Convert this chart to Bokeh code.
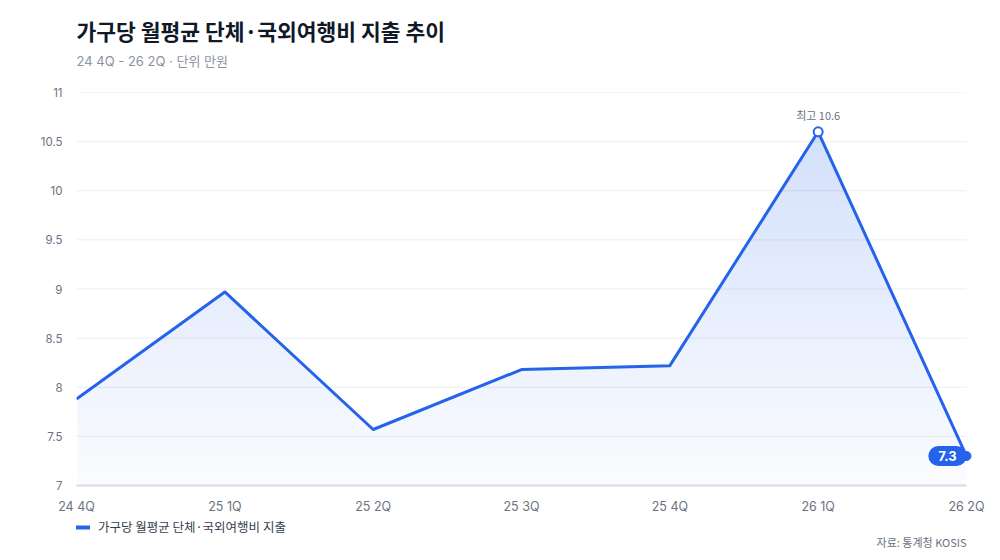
import numpy as np
from bokeh.plotting import figure
from bokeh.layouts import column
from bokeh.models import Range1d, FixedTicker, Label, Legend, LegendItem
from bokeh.embed import file_html
from bokeh.resources import INLINE

# ---- data ----
quarters = ["24 4Q", "25 1Q", "25 2Q", "25 3Q", "25 4Q", "26 1Q", "26 2Q"]
spend = [7.88, 8.97, 7.57, 8.18, 8.22, 10.6, 7.3]
y_ticks = [7, 7.5, 8, 8.5, 9, 9.5, 10, 10.5, 11]
y_tick_labels = ["7", "7.5", "8", "8.5", "9", "9.5", "10", "10.5", "11"]
title_text = "가구당 월평균 단체·국외여행비 지출 추이"
subtitle_text = "24 4Q - 26 2Q · 단위 만원"
series_name = "가구당 월평균 단체·국외여행비 지출"
source_text = "자료: 통계청 KOSIS"
max_prefix = "최고"

BLUE = "#2563eb"
BLUE_RGB = (37, 99, 235)
KR = "Noto Sans CJK KR"
NUM = "Inter, Noto Sans CJK KR"

# ---- layout constants (pixels) ----
W = 1000
LEFT, RIGHT = 76, 28
HEAD_H, MAIN_H, FOOT_H = 70, 446, 44
MAIN_TOP, MAIN_BOTTOM = 22, 30
X_LO, X_HI = LEFT, W - RIGHT
head_y0 = 0
foot_y0 = HEAD_H + MAIN_H


def bare(fig):
    fig.outline_line_color = None
    fig.background_fill_color = "white"
    fig.border_fill_color = "white"
    fig.xgrid.grid_line_color = None
    fig.ygrid.grid_line_color = None
    return fig


def strip(height, top):
    return bare(figure(width=W, height=height, output_backend="svg",
                       toolbar_location=None, x_range=Range1d(X_LO, X_HI),
                       y_range=Range1d(top + height, top),
                       x_axis_location=None, y_axis_location=None,
                       min_border_left=LEFT, min_border_right=RIGHT,
                       min_border_top=0, min_border_bottom=0))


# ---- header (title / subtitle) ----
head = strip(HEAD_H, head_y0)
head.add_layout(Label(x=76, y=29.5, text=title_text, text_font=KR,
                      text_font_size="21.5px", text_font_style="bold",
                      text_color="#111827", text_baseline="middle"))
head.add_layout(Label(x=76, y=60.5, text=subtitle_text, text_font=NUM,
                      text_font_size="13px", text_color="#8a93a3",
                      text_baseline="middle"))

# ---- main chart ----
xs = list(range(len(quarters)))
x_last = xs[-1]
y0, y1 = y_ticks[0], y_ticks[-1]
frame_w = X_HI - X_LO
px_x = (frame_w - 6) / x_last               # pixels per x unit
x_pad = 6 / px_x                            # room so the end marker is not clipped
px_y = (MAIN_H - MAIN_TOP - MAIN_BOTTOM) / (y1 - y0)

p = bare(figure(width=W, height=MAIN_H, output_backend="svg",
                toolbar_location=None,
                x_range=Range1d(0, x_last + x_pad), y_range=Range1d(y0, y1),
                min_border_left=LEFT, min_border_right=RIGHT,
                min_border_top=MAIN_TOP, min_border_bottom=MAIN_BOTTOM))

p.yaxis.ticker = FixedTicker(ticks=y_ticks)
p.yaxis.major_label_overrides = {t: l for t, l in zip(y_ticks, y_tick_labels)}
p.yaxis.axis_line_color = None
p.yaxis.major_tick_line_color = None
p.yaxis.minor_tick_line_color = None
p.yaxis.major_tick_out = 0
p.yaxis.major_label_standoff = 14
p.yaxis.major_label_text_font = NUM
p.yaxis.major_label_text_font_size = "11.5px"
p.yaxis.major_label_text_color = "#6b7280"

p.xaxis.ticker = FixedTicker(ticks=xs)
p.xaxis.major_label_overrides = {i: q for i, q in enumerate(quarters)}
p.xaxis.bounds = (0, x_last)
p.xaxis.axis_line_color = "#d5dae2"
p.xaxis.axis_line_width = 2
p.xaxis.major_tick_line_color = None
p.xaxis.minor_tick_line_color = None
p.xaxis.major_tick_out = 0
p.xaxis.major_tick_in = 0
p.xaxis.major_label_standoff = 13
p.xaxis.major_label_text_font = NUM
p.xaxis.major_label_text_font_size = "12.5px"
p.xaxis.major_label_text_color = "#6b7280"

# vertical gradient (image), then white above the series line
top_fill = max(spend)
img_top = top_fill + 3 / px_y
n_rows = 400
row_y = y0 + (np.arange(n_rows) + 0.5) / n_rows * (img_top - y0)
eff = np.clip(0.02 + 0.18 * (row_y - y0) / (top_fill - y0), 0, 0.2)
rgba = np.empty((n_rows, 1, 4), dtype=np.uint8)
for c in range(3):
    rgba[:, 0, c] = np.round(255 - (255 - BLUE_RGB[c]) * eff).astype(np.uint8)
rgba[:, 0, 3] = 255
img = rgba.view(dtype=np.uint32).reshape((n_rows, 1))
inset = 1.0 / px_x
p.image_rgba(image=[img], x=inset, y=y0, dw=x_last - 2 * inset,
             dh=img_top - y0)
p.varea(x=xs, y1=spend, y2=[y1] * len(xs), fill_color="white", fill_alpha=1)

# grid lines
p.segment(x0=[0] * len(y_ticks), x1=[x_last] * len(y_ticks), y0=y_ticks,
          y1=y_ticks, line_color="#64748b", line_alpha=0.13, line_width=1)

# line + markers
p.line(xs, spend, line_color=BLUE, line_width=3, line_join="round")
imax = int(np.argmax(spend))
p.scatter([xs[imax]], [spend[imax]], size=9, fill_color="white",
          line_color=BLUE, line_width=2)
p.scatter([x_last], [spend[-1]], size=9, fill_color=BLUE, line_color=BLUE)

p.add_layout(Label(x=xs[imax], y=spend[imax], y_offset=17,
                   text=f"{max_prefix} {spend[imax]}", text_align="center",
                   text_baseline="middle", text_font=KR,
                   text_font_size="11px", text_color="#6b7280"))
p.add_layout(Label(x=x_last, y=spend[-1], x_offset=-19,
                   text=f"{spend[-1]}", text_align="center",
                   text_baseline="middle", text_font=NUM,
                   text_font_size="13px", text_font_style="bold",
                   text_color="white", background_fill_color=BLUE,
                   padding=dict(left=10, right=10, top=5, bottom=5),
                   border_radius=12))

# ---- footer (legend + source) ----
foot = strip(FOOT_H, foot_y0)
# legend sample renderer (kept outside the visible range)
legend_r = foot.line(x=[X_LO - 20, X_LO - 10], y=[foot_y0, foot_y0],
                     line_color=BLUE, line_width=4, line_cap="round")
legend = Legend(items=[LegendItem(label=series_name, renderers=[legend_r])],
                location=(0, 24), orientation="horizontal",
                glyph_width=14, glyph_height=12, label_height=12,
                label_standoff=8, padding=0, margin=0,
                border_line_color=None, background_fill_alpha=0,
                label_text_font=KR, label_text_font_size="12.5px",
                label_text_color="#374151")
foot.add_layout(legend, "center")
foot.add_layout(Label(x=966, y=541, text=source_text, text_font=KR,
                      text_font_size="11px", text_color="#6b7280",
                      text_baseline="middle", text_align="right"))

layout = column(head, p, foot, spacing=0)
open("out.html", "w").write(file_html(layout, INLINE))
